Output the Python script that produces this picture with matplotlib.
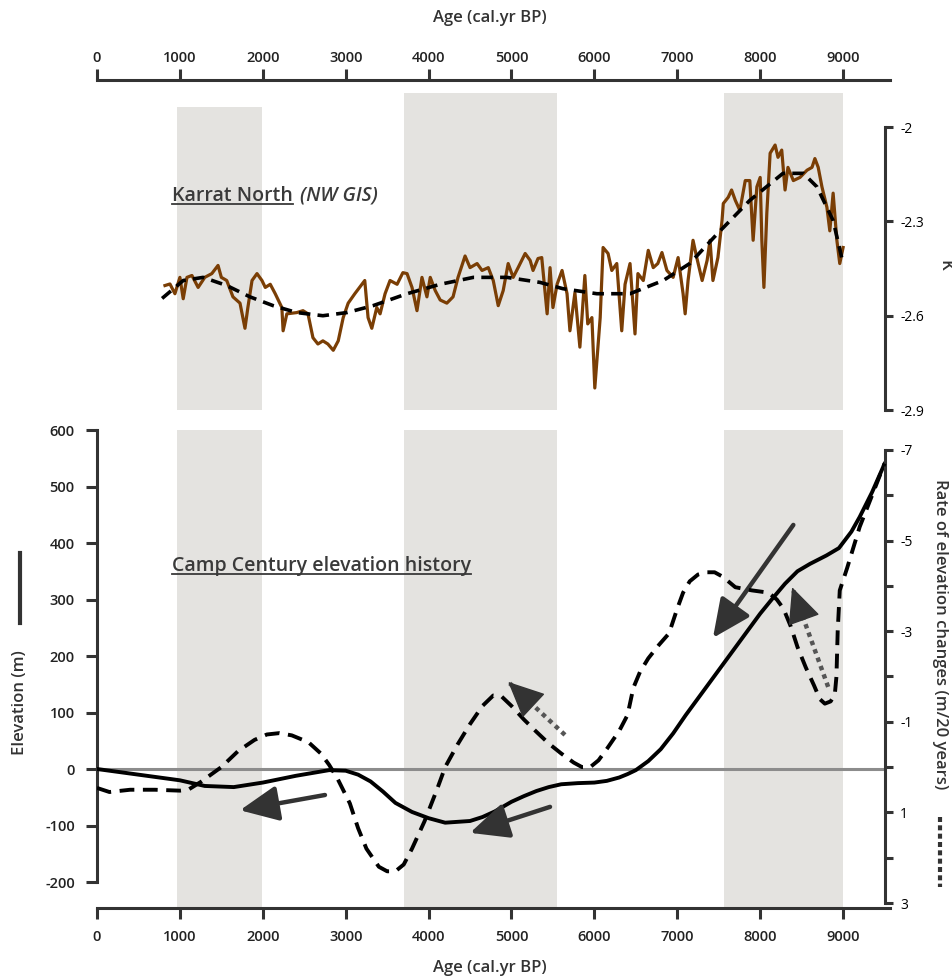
import numpy as np
import matplotlib.pyplot as plt
from matplotlib.lines import Line2D

plt.rcParams['font.family'] = ['Open Sans', 'DejaVu Sans']

# Karrat North temperature anomaly (K), brown record
karrat_age = [820, 880, 940, 1000, 1040, 1085, 1145, 1220, 1300, 1385,
              1460, 1500, 1565, 1640, 1725, 1785, 1820, 1870, 1930, 1990,
              2030, 2090, 2150, 2230, 2245, 2290, 2410, 2485, 2545, 2605,
              2665, 2725, 2785, 2850, 2910, 2970, 3030, 3110, 3230, 3270,
              3315, 3375, 3415, 3475, 3535, 3620, 3690, 3740, 3800, 3860,
              3920, 3980, 4020, 4080, 4140, 4220, 4295, 4355, 4440, 4500,
              4585, 4645, 4720, 4780, 4840, 4900, 4960, 5020, 5080, 5165,
              5225, 5260, 5320, 5365, 5430, 5465, 5500, 5550, 5610, 5670,
              5705, 5765, 5825, 5885, 5920, 5970, 6005, 6070, 6105, 6165,
              6210, 6270, 6330, 6370, 6430, 6490, 6525, 6590, 6650, 6710,
              6765, 6815, 6875, 6950, 7010, 7070, 7095, 7130, 7190, 7235,
              7300, 7360, 7395, 7430, 7490, 7540, 7555, 7615, 7655, 7700,
              7755, 7820, 7875, 7915, 7960, 8000, 8020, 8045, 8080, 8120,
              8180, 8215, 8260, 8300, 8335, 8400, 8480, 8565, 8625, 8660,
              8700, 8745, 8805, 8840, 8880, 8925, 8960, 9000]
karrat_k = [-2.504, -2.499, -2.53, -2.478, -2.546, -2.478, -2.472, -2.51, -2.478, -2.466,
            -2.44, -2.478, -2.488, -2.54, -2.56, -2.64, -2.574, -2.488, -2.466, -2.488,
            -2.51, -2.5, -2.53, -2.574, -2.648, -2.594, -2.59, -2.584, -2.594, -2.67,
            -2.69, -2.68, -2.69, -2.71, -2.68, -2.606, -2.56, -2.53, -2.488, -2.606,
            -2.64, -2.574, -2.594, -2.53, -2.488, -2.5, -2.463, -2.466, -2.51, -2.584,
            -2.478, -2.54, -2.478, -2.52, -2.55, -2.56, -2.54, -2.478, -2.41, -2.447,
            -2.434, -2.456, -2.447, -2.488, -2.568, -2.52, -2.434, -2.478, -2.447, -2.402,
            -2.424, -2.456, -2.418, -2.415, -2.594, -2.447, -2.574, -2.5, -2.456, -2.53,
            -2.648, -2.527, -2.7, -2.472, -2.626, -2.606, -2.83, -2.606, -2.383, -2.402,
            -2.456, -2.434, -2.648, -2.5, -2.434, -2.658, -2.466, -2.488, -2.392, -2.447,
            -2.434, -2.399, -2.456, -2.478, -2.415, -2.53, -2.594, -2.488, -2.36, -2.415,
            -2.488, -2.424, -2.36, -2.488, -2.415, -2.297, -2.243, -2.223, -2.2, -2.233,
            -2.265, -2.17, -2.17, -2.36, -2.19, -2.16, -2.36, -2.51, -2.274, -2.083,
            -2.057, -2.096, -2.073, -2.2, -2.128, -2.17, -2.16, -2.137, -2.128, -2.1,
            -2.128, -2.19, -2.255, -2.33, -2.21, -2.36, -2.434, -2.383]

# smoothed Karrat North curve (black dashed)
smooth_age = [785, 1040, 1280, 1565, 1845, 2125, 2410, 2725, 3015, 3330, 3740,
              4140, 4540, 4945, 5345, 5620, 6030, 6430, 6830, 7150, 7480,
              7875, 8275, 8520, 8685, 8880, 9000]
smooth_k = [-2.545, -2.488, -2.478, -2.504, -2.54, -2.568, -2.59, -2.6, -2.59, -2.568, -2.53,
            -2.5, -2.478, -2.478, -2.494, -2.514, -2.53, -2.53, -2.488, -2.434, -2.34,
            -2.233, -2.147, -2.147, -2.19, -2.297, -2.434]

# Camp Century elevation (m), solid
elev_age = [0, 500, 1000, 1300, 1650, 2000, 2400, 2800, 3000, 3150, 3300,
            3450, 3600, 3800, 4000, 4200, 4500, 4650, 4800, 5000, 5150,
            5300, 5450, 5600, 5800, 6000, 6150, 6300, 6400, 6500, 6650,
            6800, 6950, 7100, 7400, 7700, 8000, 8150, 8300, 8450, 8600,
            8800, 8950, 9100, 9200, 9350, 9500]
elev_m = [0, -10, -20, -30, -32, -24, -12, -2, -3, -10, -22,
          -40, -60, -76, -87, -95, -92, -85, -75, -58, -48,
          -39, -32, -27, -25, -24, -21, -15, -9, -2, 14,
          35, 63, 95, 155, 215, 275, 302, 328, 350, 363,
          378, 391, 420, 446, 490, 540]

# rate of elevation change (m/20 yr), dashed, inverted axis
rate_age = [0, 150, 400, 700, 1000, 1100, 1250, 1500, 1700, 1900, 2050,
            2200, 2350, 2550, 2700, 2800, 2900, 3050, 3150, 3250, 3400,
            3500, 3600, 3700, 3800, 3950, 4100, 4200, 4350, 4500, 4650,
            4780, 4880, 5000, 5150, 5300, 5450, 5600, 5750, 5850, 5950,
            6050, 6150, 6300, 6400, 6470, 6550, 6650, 6780, 6900, 7000,
            7070, 7150, 7250, 7350, 7450, 7550, 7700, 7900, 8100, 8200,
            8280, 8370, 8450, 8550, 8650, 8720, 8780, 8850, 8900, 8920,
            8935, 8960, 9050, 9200, 9350, 9500]
rate_val = [0.46, 0.55, 0.5, 0.5, 0.52, 0.5, 0.33, 0.0, -0.35, -0.6, -0.72,
            -0.75, -0.7, -0.55, -0.3, -0.05, 0.25, 0.8, 1.35, 1.8, 2.2,
            2.3, 2.3, 2.15, 1.8, 1.2, 0.5, 0.0, -0.5, -0.95, -1.35,
            -1.58, -1.56, -1.35, -1.05, -0.78, -0.52, -0.3, -0.1, 0.0, 0.0,
            -0.15, -0.4, -0.8, -1.15, -1.75, -2.1, -2.4, -2.7, -2.95, -3.5,
            -3.85, -4.1, -4.25, -4.3, -4.3, -4.2, -3.97, -3.9, -3.85, -3.7,
            -3.5, -3.1, -2.65, -2.2, -1.8, -1.5, -1.4, -1.45, -1.6, -2.0,
            -3.0, -3.9, -4.4, -5.3, -6.0, -6.7]

# shaded periods
band_start = [970, 3700, 7560]
band_end = [1990, 5550, 9000]

# trend arrows: (age from, value from, age to, value to)
elev_arrows = [(2750, -46, 1725, -73), (5465, -67, 4500, -113), (8400, 432, 7430, 232)]
rate_arrows = [(5645, -0.71, 4960, -1.88), (8820, -1.77, 8385, -3.97)]

W, H = 952, 980
DARK = '#333333'
BAND = '#e4e3e0'
BROWN = '#7a3e05'
X_MAX = 9566
SPINE_X = 9505


def rect(x0, y0, x1, y1):
    return [x0 / W, 1 - y1 / H, (x1 - x0) / W, (y1 - y0) / H]


fig = plt.figure(figsize=(W / 100, H / 100), dpi=100)
ax_top = fig.add_axes(rect(97, 80, 890, 410))
ax_bot = fig.add_axes(rect(97, 430, 890, 908))
ax_rate = ax_bot.twinx()

tick_font = dict(fontsize=10.5, fontweight='semibold', color='#222222')

# ---- top panel ----
for s, e, top in zip(band_start, band_end, [0.918, 0.961, 0.961]):
    ax_top.axvspan(s, e, ymin=0, ymax=top, color=BAND, lw=0, zorder=0)
ax_top.plot(karrat_age, karrat_k, color=BROWN, lw=2.3, zorder=2)
ax_top.plot(smooth_age, smooth_k, color='black', lw=2.6, ls=(0, (3.2, 2.0)), zorder=3)
ax_top.set_xlim(0, X_MAX)
ax_top.set_ylim(-2.9, -1.85)
ax_top.xaxis.tick_top()
ax_top.set_xticks(range(0, 9001, 1000))
ax_top.set_xticklabels([str(v) for v in range(0, 9001, 1000)], **tick_font)
ax_top.yaxis.tick_right()
ax_top.set_yticks([-2, -2.3, -2.6, -2.9])
ax_top.set_yticklabels(['-2', '-2.3', '-2.6', '-2.9'], **tick_font)
for side in ['left', 'bottom']:
    ax_top.spines[side].set_visible(False)
ax_top.spines['right'].set_position(('data', SPINE_X))
ax_top.spines['right'].set_bounds(-2.9, -2)
for side in ['top', 'right']:
    ax_top.spines[side].set_color(DARK)
    ax_top.spines[side].set_linewidth(2.2)
ax_top.tick_params(axis='x', direction='out', length=8, width=2.2, color=DARK, pad=3)
ax_top.tick_params(axis='y', direction='out', length=6, width=2.2, color=DARK, pad=5)
ax_top.patch.set_alpha(0)

# ---- bottom panel ----
for s, e in zip(band_start, band_end):
    ax_bot.axvspan(s, e, color=BAND, lw=0, zorder=0)
ax_bot.hlines(0, 0, SPINE_X, color='#8c8c8c', lw=2.2, zorder=1)
ax_bot.plot(elev_age, elev_m, color='black', lw=2.8, zorder=3, solid_joinstyle='round')
ax_bot.set_xlim(0, X_MAX)
ax_bot.set_ylim(-246, 600)
ax_bot.set_xticks(range(0, 9001, 1000))
ax_bot.set_xticklabels([str(v) for v in range(0, 9001, 1000)], **tick_font)
ax_bot.set_yticks(range(-200, 601, 100))
ax_bot.set_yticklabels([str(v) for v in range(-200, 601, 100)], **tick_font)
for side in ['top', 'right']:
    ax_bot.spines[side].set_visible(False)
ax_bot.spines['left'].set_bounds(-200, 600)
for side in ['left', 'bottom']:
    ax_bot.spines[side].set_color(DARK)
    ax_bot.spines[side].set_linewidth(2.2)
ax_bot.tick_params(axis='both', direction='out', length=8, width=2.2, color=DARK, pad=8)

ax_rate.plot(rate_age, rate_val, color='black', lw=2.8, ls=(0, (3.8, 2.2)), zorder=3)
ax_rate.set_ylim(3.11, -7.44)
ax_rate.set_yticks([-7, -5, -3, -1, 1, 3])
ax_rate.set_yticklabels(['-7', '-5', '-3', '-1', '1', '3'], **tick_font)
ax_rate.set_yticks([-6, -4, -2, 0, 2], minor=True)
for side in ['left', 'top', 'bottom']:
    ax_rate.spines[side].set_visible(False)
ax_rate.spines['right'].set_position(('data', SPINE_X))
ax_rate.spines['right'].set_bounds(-7, 3)
ax_rate.spines['right'].set_color(DARK)
ax_rate.spines['right'].set_linewidth(2.2)
ax_rate.tick_params(axis='y', which='both', direction='out', length=6, width=2.2, color=DARK, pad=5)

head = '-|>,head_length=1.3,head_width=0.6'
for x0, y0, x1, y1 in elev_arrows:
    ax_bot.annotate('', xy=(x1, y1), xytext=(x0, y0), zorder=4,
                    arrowprops=dict(arrowstyle=head, color=DARK, lw=3.2,
                                    mutation_scale=18, shrinkA=0, shrinkB=0))
for x0, y0, x1, y1 in rate_arrows:
    # dotted shaft, then a solid head at the tip
    ax_rate.plot([x0, x1], [y0, y1], color='#555555', lw=3.2, ls=(0, (1, 1)), zorder=4)
    ax_rate.annotate('', xy=(x1, y1), xytext=(x1 + 0.15 * (x0 - x1), y1 + 0.15 * (y0 - y1)),
                     zorder=5,
                     arrowprops=dict(arrowstyle=head, color=DARK, lw=1,
                                     mutation_scale=18, shrinkA=0, shrinkB=0))

# ---- texts ----
title_font = dict(fontsize=12, fontweight='semibold', color='#333333')
fig.text(490 / W, 1 - 18 / H, 'Age (cal.yr BP)', ha='center', va='center', **title_font)
fig.text(490 / W, 1 - 968 / H, 'Age (cal.yr BP)', ha='center', va='center', **title_font)
fig.text(20 / W, 1 - 703 / H, 'Elevation (m)', rotation=90, ha='center', va='center', **title_font)
fig.text(940 / W, 1 - 634 / H, 'Rate of elevation changes (m/20 years)', rotation=-90,
         ha='center', va='center', **title_font)
fig.text(944 / W, 1 - 265 / H, 'K', rotation=-90, ha='center', va='center', **title_font)
fig.add_artist(Line2D([20 / W, 20 / W], [1 - 553 / H, 1 - 623 / H], color=DARK, lw=3))
fig.add_artist(Line2D([940 / W, 940 / W], [1 - 817 / H, 1 - 887 / H], color=DARK, lw=3,
                      ls=(0, (1.2, 0.8))))

label_font = dict(fontsize=14, fontweight='semibold', color='#3a3a3a', va='baseline')
t1 = fig.text(172 / W, 1 - 201 / H, 'Karrat North', **label_font)
t3 = fig.text(172 / W, 1 - 571 / H, 'Camp Century elevation history', **label_font)
fig.canvas.draw()
bb1 = t1.get_window_extent()
fig.text((bb1.x1 + 7) / W, 1 - 201 / H, '(NW GIS)', fontstyle='italic', **label_font)
for t, base in [(t1, 201), (t3, 571)]:
    bb = t.get_window_extent()
    yy = 1 - (base + 3) / H
    fig.add_artist(Line2D([bb.x0 / W, bb.x1 / W], [yy, yy], color='#3a3a3a', lw=1.3))

fig.savefig('out.png', dpi=100)
